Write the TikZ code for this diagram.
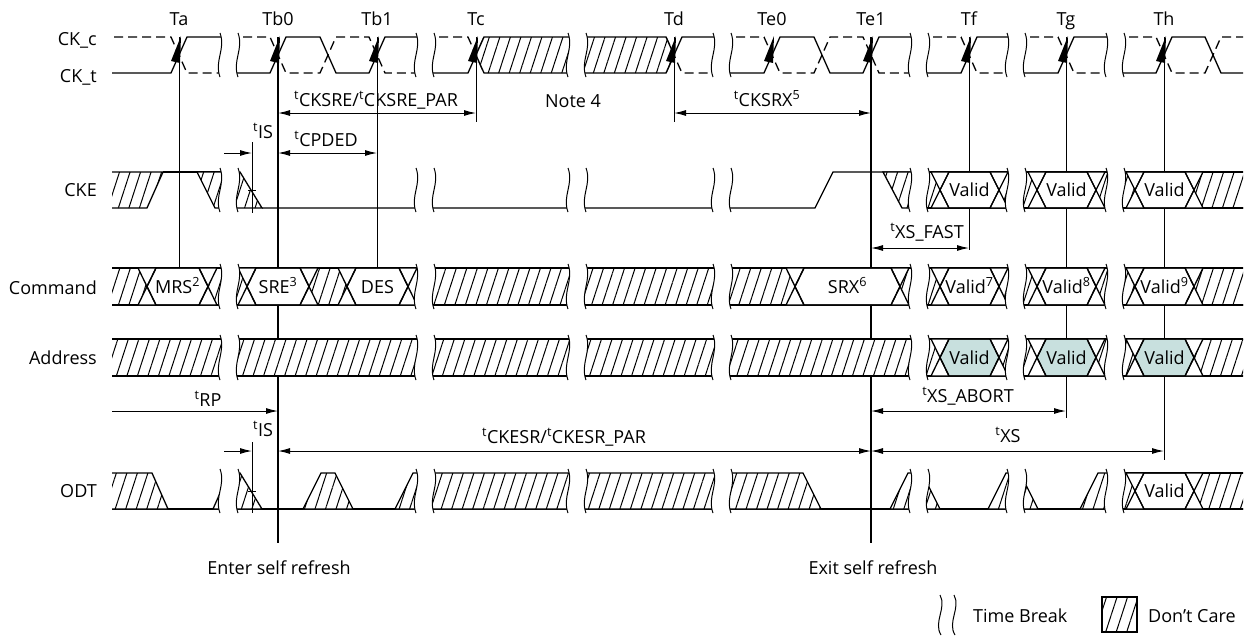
\documentclass[tikz,border=0pt]{standalone}
\usepackage{fontspec}
\setmainfont{Open Sans}
\usetikzlibrary{arrows.meta,patterns.meta}
\definecolor{validfill}{RGB}{200,224,222}

\newcommand\timebreak[3]{%
  \fill[white] ({#1-9},{#2-4}) .. controls ({#1-3},{#2+12}) and ({#1-15},{#3-12}) .. ({#1-9},{#3+4})
    -- ({#1+9},{#3+4}) .. controls ({#1+3},{#3-12}) and ({#1+15},{#2+12}) .. ({#1+9},{#2-4}) -- cycle;
  \draw[wav] ({#1-9},{#2-4}) .. controls ({#1-3},{#2+12}) and ({#1-15},{#3-12}) .. ({#1-9},{#3+4})
    ({#1+9},{#3+4}) .. controls ({#1+3},{#3-12}) and ({#1+15},{#2+12}) .. ({#1+9},{#2-4});
}
\newcommand\buscell[7]{%
  \pgfmathsetmacro\ymid{(#3+#4)/2}
  \fill[white] ({#1-9},#3) -- ({#2+9},#3) -- (#2,\ymid) -- ({#2+9},#4) -- ({#1-9},#4) -- (#1,\ymid) -- cycle;
  \draw[sig,fill=#5] (#1,\ymid) -- ({#1+9},#3) -- ({#2-9},#3) -- (#2,\ymid) -- ({#2-9},#4) -- ({#1+9},#4) -- cycle;
  \draw[sig] ({#1-9},#3) -- ({#1+9},#4) ({#1-9},#4) -- ({#1+9},#3)
    ({#2-9},#3) -- ({#2+9},#4) ({#2-9},#4) -- ({#2+9},#3)
    ({#1-9},#3) -- ({#2+9},#3) ({#1-9},#4) -- ({#2+9},#4);
  \node[lbl] (#6) at ({(#1+#2)/2},{\ymid+6.5}) {#7};
}

\begin{document}
\begin{tikzpicture}[x=1pt,y=-1pt,font=\fontsize{18}{21}\selectfont,
  sig/.style={line width=1.3pt},
  wav/.style={line width=1pt},
  ckc/.style={sig,dash pattern=on 9pt off 5pt},
  dc/.style={sig,draw,preaction={fill=white},pattern={Lines[angle=72,distance=10pt,line width=1pt]}},
  tl/.style={line width=1pt},
  tlb/.style={line width=2.7pt},
  dim/.style={line width=1pt,<->,>={Latex[length=12pt,width=6pt]}},
  lbl/.style={inner sep=0pt,anchor=base}]

  \useasboundingbox (0,0) rectangle (1253,637);

  \foreach \nm/\x in {Ta/179,Tb0/278,Tb1/377,Tc/476,Td/674,Te0/772,Te1/871,Tf/969,Tg/1066,Th/1164}
    \node[lbl] (l\nm) at (\x,25) {\nm};

  \foreach \nm/\y/\txt in {ckc/45/CK\_c,ckt/82/CK\_t,cke/196/CKE,cmd/294/Command,addr/364/Address,odt/497/ODT}
    \node[lbl,anchor=base east] (r\nm) at (97,\y) {\txt};

  \draw[tl] (179,37) -- (179,268);
  \draw[tlb] (278,37) -- (278,543);
  \draw[tl] (377,37) -- (377,268);
  \draw[tl] (476,37) -- (476,122);
  \draw[tl] (674,37) -- (674,122);
  \draw[tlb] (871,37) -- (871,543);
  \draw[tl] (969,37) -- (969,250);
  \draw[tl] (1066,37) -- (1066,418);
  \draw[tl] (1164,37) -- (1164,460);

  \begin{scope}
    \clip (112,0) rectangle (1243,637);
    \draw[sig] (100,73) -- (171,73) -- (187,37) -- (229,37);
    \draw[sig] (229,73) -- (270,73) -- (286,37) -- (320,37) -- (336,73) -- (369,73) -- (385,37) -- (425,37);
    \draw[sig] (425,73) -- (468,73) -- (484,37);
    \draw[sig] (666,73) -- (682,37) -- (722,37);
    \draw[sig] (722,73) -- (764,73) -- (780,37) -- (814,37) -- (830,73) -- (863,73) -- (879,37) -- (919,37);
    \draw[sig] (919,73) -- (961,73) -- (977,37) -- (1016,37);
    \draw[sig] (1016,73) -- (1058,73) -- (1074,37) -- (1115,37);
    \draw[sig] (1115,73) -- (1156,73) -- (1172,37) -- (1205,37) -- (1221,73) -- (1255,73);
    \draw[ckc] (100,37) -- (171,37) -- (187,73) -- (229,73);
    \draw[ckc] (229,37) -- (270,37) -- (286,73) -- (320,73) -- (336,37) -- (369,37) -- (385,73) -- (425,73);
    \draw[ckc] (425,37) -- (468,37) -- (484,73);
    \draw[ckc] (666,37) -- (682,73) -- (722,73);
    \draw[ckc] (722,37) -- (764,37) -- (780,73) -- (814,73) -- (830,37) -- (863,37) -- (879,73) -- (919,73);
    \draw[ckc] (919,37) -- (961,37) -- (977,73) -- (1016,73);
    \draw[ckc] (1016,37) -- (1058,37) -- (1074,73) -- (1115,73);
    \draw[ckc] (1115,37) -- (1156,37) -- (1172,73) -- (1205,73) -- (1221,37) -- (1255,37);
    \path[dc] (476,55) -- (484,37) -- (577,37) -- (577,73) -- (484,73) -- cycle;
    \path[dc] (577,37) -- (666,37) -- (674,55) -- (666,73) -- (577,73) -- cycle;

    \path[dc] (100,172) -- (163,172) -- (147,208) -- (100,208) -- cycle;
    \draw[sig] (163,172) -- (229,172);
    \path[dc] (197,172) -- (229,172) -- (229,208) -- (215,208) -- cycle;
    \path[dc] (229,172) -- (240,172) -- (262,208) -- (229,208) -- cycle;
    \draw[sig] (262,208) -- (815,208) -- (833,172) -- (919,172);
    \path[dc] (883,172) -- (919,172) -- (919,208) -- (902,208) -- cycle;
    \path[dc] (919,172) rectangle (1255,208);
    \buscell{940}{999}{172}{208}{white}{ckef}{Valid}
    \buscell{1037}{1096}{172}{208}{white}{ckeg}{Valid}
    \buscell{1135}{1194}{172}{208}{white}{ckeh}{Valid}

    \path[dc] (100,268) rectangle (1255,305);
    \buscell{147}{208}{268}{305}{white}{cmra}{MRS\textsuperscript{2}}
    \buscell{247}{309}{268}{305}{white}{cmrb}{SRE\textsuperscript{3}}
    \buscell{347}{408}{268}{305}{white}{cmrc}{DES}
    \buscell{795}{900}{268}{305}{white}{cmrd}{SRX\textsuperscript{6}}
    \buscell{940}{999}{268}{305}{white}{cmre}{Valid\textsuperscript{7}}
    \buscell{1037}{1096}{268}{305}{white}{cmrf}{Valid\textsuperscript{8}}
    \buscell{1135}{1194}{268}{305}{white}{cmrg}{Valid\textsuperscript{9}}

    \path[dc] (100,339) rectangle (1255,376);
    \buscell{940}{999}{339}{376}{validfill}{adrf}{Valid}
    \buscell{1037}{1096}{339}{376}{validfill}{adrg}{Valid}
    \buscell{1135}{1194}{339}{376}{validfill}{adrh}{Valid}

    \draw[sig] (100,509) -- (1255,509);
    \path[dc] (100,473) -- (152,473) -- (168,509) -- (100,509) -- cycle;
    \path[dc] (213,509) -- (229,473) -- (229,509) -- cycle;
    \path[dc] (229,473) -- (240,473) -- (262,509) -- (229,509) -- cycle;
    \path[dc] (303,509) -- (321,473) -- (335,473) -- (353,509) -- cycle;
    \path[dc] (395,509) -- (413,473) -- (803,473) -- (821,509) -- cycle;
    \path[dc] (890,509) -- (908,473) -- (919,473) -- (919,509) -- cycle;
    \path[dc] (919,473) -- (922,473) -- (940,509) -- (919,509) -- cycle;
    \path[dc] (988,509) -- (1006,473) -- (1016,473) -- (1016,509) -- cycle;
    \path[dc] (1016,473) -- (1020,473) -- (1038,509) -- (1016,509) -- cycle;
    \path[dc] (1080,509) -- (1098,473) -- (1115,473) -- (1115,509) -- cycle;
    \path[dc] (1115,473) rectangle (1255,509);
    \buscell{1135}{1194}{473}{509}{white}{odth}{Valid}
  \end{scope}

  \foreach \c in {229,425,577,722,919,1016,1115}{
    \foreach \t/\b in {37/73,172/208,268/305,339/376,473/509}{
      \timebreak{\c}{\t}{\b}
    }
  }

  \foreach \x in {179,278,377,476,674,772,871,969,1066,1164}
    \fill ({\x+2},36) -- ({\x-8},61) -- ({\x+1},63) -- cycle;

  \draw[dim] (278,113) -- (476,113);
  \node[lbl] (cksre) at (376,106) {\textsuperscript{t}CKSRE/\textsuperscript{t}CKSRE\_PAR};
  \node[lbl] (note) at (573,107) {Note 4};
  \draw[dim] (674,113) -- (871,113);
  \node[lbl] (cksrx) at (767,106) {\textsuperscript{t}CKSRX\textsuperscript{5}};
  \draw[dim,->] (224,153) -- (252,153);
  \draw[tl] (252,142) -- (252,213) (248,190) -- (256,190);
  \node[lbl] (isa) at (263,138) {\textsuperscript{t}IS};
  \draw[dim] (278,153) -- (377,153);
  \node[lbl] (cpded) at (326,146) {\textsuperscript{t}CPDED};
  \draw[dim] (871,248) -- (969,248);
  \node[lbl] (xsfast) at (927,238) {\textsuperscript{t}XS\_FAST};
  \draw[dim,->] (112,411) -- (278,411);
  \node[lbl] (rp) at (208,406) {\textsuperscript{t}RP};
  \draw[dim] (871,411) -- (1066,411);
  \node[lbl] (xsabort) at (968,402) {\textsuperscript{t}XS\_ABORT};
  \draw[dim,->] (224,451) -- (252,451);
  \draw[tl] (252,442) -- (252,513) (248,491) -- (256,491);
  \node[lbl] (isb) at (263,436) {\textsuperscript{t}IS};
  \draw[dim] (278,451) -- (871,451);
  \node[lbl] (ckesr) at (564,443) {\textsuperscript{t}CKESR/\textsuperscript{t}CKESR\_PAR};
  \draw[dim] (871,451) -- (1164,451);
  \node[lbl] (xs) at (1008,442) {\textsuperscript{t}XS};

  \node[lbl] (enter) at (279,574) {Enter self refresh};
  \node[lbl] (exit) at (873,574) {Exit self refresh};

  \draw[wav] (940,595) .. controls (947,608) and (933,622) .. (941,635)
    (954,595) .. controls (961,608) and (947,622) .. (955,635);
  \node[lbl,anchor=base west] (tbreak) at (973,622) {Time Break};
  \path[dc] (1102,597) rectangle (1137,632);
  \node[lbl,anchor=base west] (dcare) at (1148,622) {Don’t Care};
\end{tikzpicture}
\end{document}
